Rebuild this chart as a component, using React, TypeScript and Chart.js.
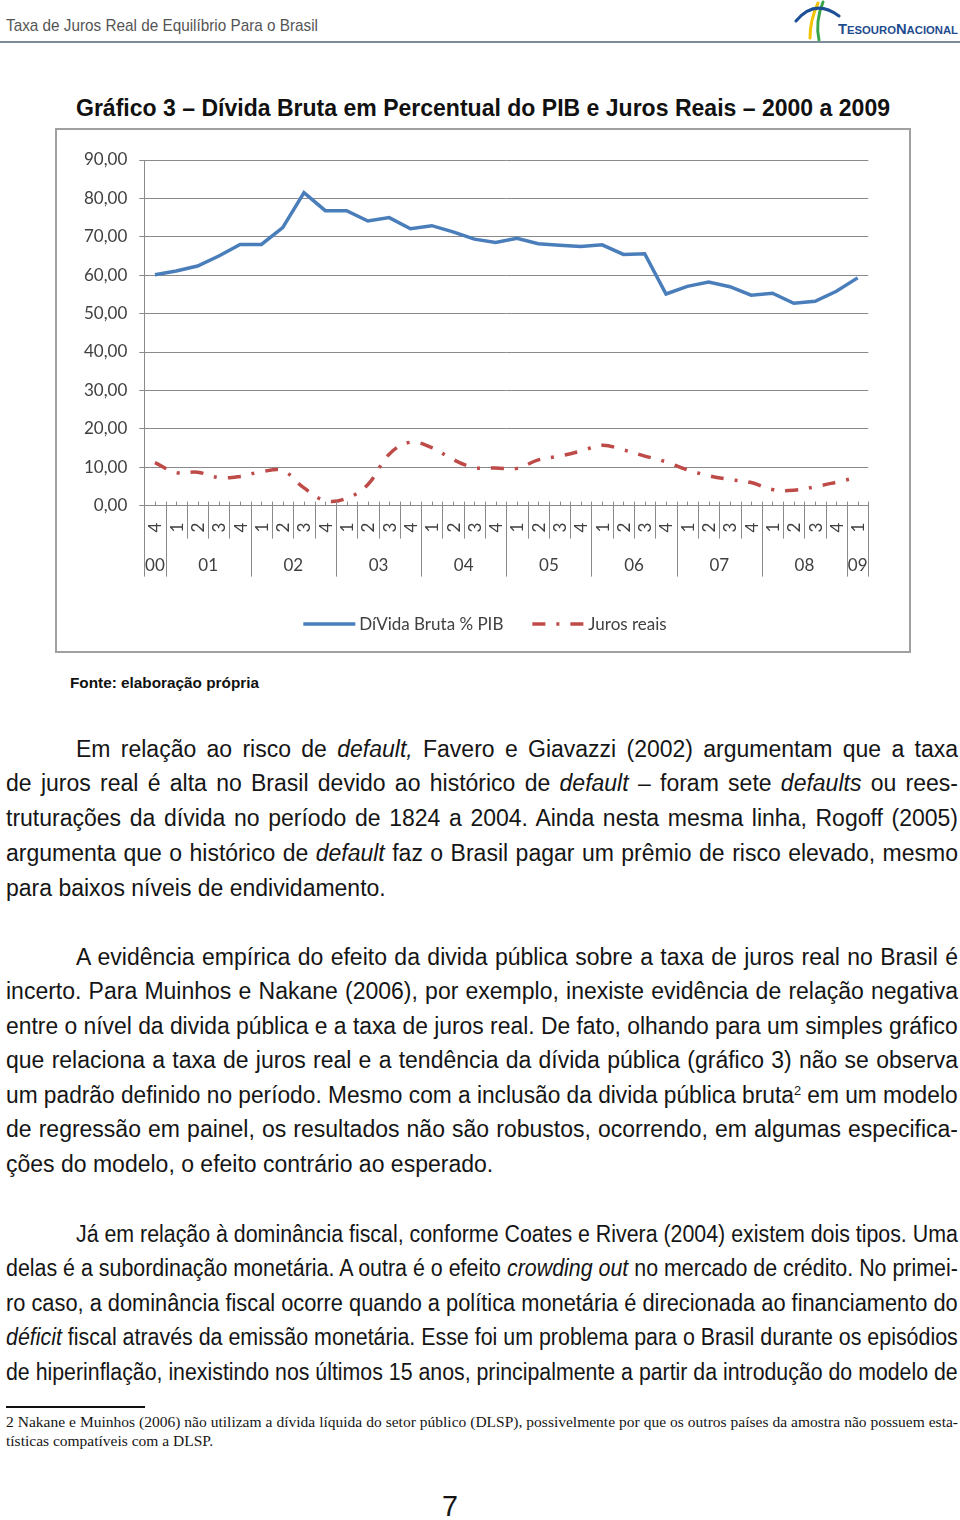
import React, { useEffect, useLayoutEffect, useRef } from "react";
import { Chart, registerables } from "chart.js";

Chart.register(...registerables);

// ---------- DATA ----------
const quarters = [
  "4",
  "1", "2", "3", "4",
  "1", "2", "3", "4",
  "1", "2", "3", "4",
  "1", "2", "3", "4",
  "1", "2", "3", "4",
  "1", "2", "3", "4",
  "1", "2", "3", "4",
  "1", "2", "3", "4",
  "1",
];
const yearLabels = ["00", "01", "02", "03", "04", "05", "06", "07", "08", "09"];
const yearSpans = [1, 4, 4, 4, 4, 4, 4, 4, 4, 1];

const dividaBruta = [
  60.1, 61.1, 62.4, 65.0, 68.0, 68.0, 72.4, 81.5, 76.8, 76.8, 74.1, 75.0,
  72.1, 72.9, 71.3, 69.4, 68.5, 69.6, 68.2, 67.8, 67.5, 67.9, 65.4, 65.6,
  55.1, 57.1, 58.2, 57.0, 54.8, 55.3, 52.7, 53.2, 55.8, 59.3,
];
const jurosReais = [
  11.2, 8.6, 8.7, 7.3, 7.6, 8.8, 9.1, 4.6, 1.3, 1.9, 5.5, 13.4,
  16.5, 15.1, 12.0, 9.9, 9.8, 9.7, 11.9, 12.9, 14.2, 15.7, 14.5, 12.9,
  11.4, 9.3, 7.8, 6.8, 6.0, 4.2, 4.0, 4.9, 6.1, 7.4,
];
const seriesNames = ["DíVida Bruta % PIB", "Juros reais"];
const yMin = 0;
const yMax = 90;
const yStep = 10;

// ---------- STYLE ----------
const BLUE = "#4A7EBB";
const RED = "#BE4B48";
const RED_DASH = [13, 11, 3, 11];
const AXIS = "#8a8a8a";
const LABEL = "#404040";
const CHART_FONT = "Lato";

const decorPlugin = {
  id: "decor",
  afterDraw(chart: any) {
    const ctx = chart.ctx as CanvasRenderingContext2D;
    const xs = chart.scales.x;
    const ys = chart.scales.y;
    const y0 = ys.getPixelForValue(0);
    const n = quarters.length;
    const half = (xs.getPixelForValue(1) - xs.getPixelForValue(0)) / 2;
    const edge = (b: number) =>
      b < n ? xs.getPixelForValue(b) - half : xs.getPixelForValue(n - 1) + half;

    ctx.save();
    ctx.strokeStyle = AXIS;
    ctx.lineWidth = 1;

    // small ticks above axis
    ctx.beginPath();
    for (let i = 0; i < n; i++) {
      const c = Math.round(xs.getPixelForValue(i)) + 0.5;
      ctx.moveTo(c, y0 - 4);
      ctx.lineTo(c, y0);
    }
    ctx.stroke();

    // separators
    const yearEdges = new Set<number>();
    let acc = 0;
    yearEdges.add(0);
    for (const s of yearSpans) {
      acc += s;
      yearEdges.add(acc);
    }
    ctx.beginPath();
    for (let b = 0; b <= n; b++) {
      const bx = Math.round(edge(b)) + 0.5;
      ctx.moveTo(bx, y0 - 4);
      ctx.lineTo(bx, y0 + (yearEdges.has(b) ? 71 : 33));
    }
    ctx.stroke();

    // quarter labels
    ctx.fillStyle = LABEL;
    ctx.font = `17px ${CHART_FONT}`;
    ctx.textAlign = "center";
    ctx.textBaseline = "middle";
    for (let i = 0; i < n; i++) {
      const c = xs.getPixelForValue(i);
      ctx.save();
      ctx.translate(c + 1, y0 + 22);
      ctx.rotate(-Math.PI / 2);
      ctx.fillText(quarters[i], 0, 0);
      ctx.restore();
    }

    // year labels
    let start = 0;
    yearLabels.forEach((lab, k) => {
      const end = start + yearSpans[k];
      const cx = (edge(start) + edge(end)) / 2;
      ctx.fillText(lab, cx, y0 + 60);
      start = end;
    });

    // legend
    const sample = 52;
    const gapText = 4;
    const gapItems = 29;
    const w0 = ctx.measureText(seriesNames[0]).width;
    const w1 = ctx.measureText(seriesNames[1]).width;
    const total = sample + gapText + w0 + gapItems + sample + gapText + w1;
    const ly = chart.height - 27;
    let lx = chart.width / 2 - total / 2 + 2;
    ctx.textAlign = "left";
    ctx.lineWidth = 3.5;
    ctx.strokeStyle = BLUE;
    ctx.beginPath();
    ctx.moveTo(lx, ly);
    ctx.lineTo(lx + sample, ly);
    ctx.stroke();
    ctx.fillText(seriesNames[0], lx + sample + gapText, ly + 1);
    lx += sample + gapText + w0 + gapItems;
    ctx.strokeStyle = RED;
    ctx.setLineDash(RED_DASH);
    ctx.beginPath();
    ctx.moveTo(lx, ly);
    ctx.lineTo(lx + sample, ly);
    ctx.stroke();
    ctx.setLineDash([]);
    ctx.fillText(seriesNames[1], lx + sample + gapText, ly + 1);

    ctx.restore();
  },
};

function ChartBox() {
  const ref = useRef<HTMLCanvasElement>(null);
  useEffect(() => {
    if (!ref.current) return;
    const chart = new Chart(ref.current, {
      type: "line",
      data: {
        labels: quarters,
        datasets: [
          {
            label: seriesNames[0],
            data: dividaBruta,
            borderColor: BLUE,
            borderWidth: 3.5,
            pointRadius: 0,
            tension: 0,
            fill: false,
          },
          {
            label: seriesNames[1],
            data: jurosReais,
            borderColor: RED,
            borderWidth: 3.5,
            borderDash: RED_DASH,
            pointRadius: 0,
            tension: 0.4,
            fill: false,
          },
        ],
      },
      options: {
        animation: false,
        responsive: false,
        devicePixelRatio: 1,
        layout: { padding: { top: 30, right: 40.7, bottom: 0, left: 0 } },
        plugins: { legend: { display: false }, tooltip: { enabled: false } },
        scales: {
          x: {
            type: "category",
            offset: true,
            grid: { display: false },
            border: { display: false },
            ticks: { display: false },
            afterFit: (s: any) => {
              s.height = 145.4;
            },
          },
          y: {
            min: yMin,
            max: yMax,
            ticks: {
              stepSize: yStep,
              callback: (v: any) => Number(v).toFixed(2).replace(".", ","),
              font: { family: CHART_FONT, size: 17 },
              color: LABEL,
              padding: 12,
            },
            grid: { color: AXIS, lineWidth: 1, tickLength: 5 },
            border: { color: AXIS, width: 1 },
            afterFit: (s: any) => {
              s.width = 87.3;
            },
          },
        },
      } as any,
      plugins: [decorPlugin],
    });
    return () => chart.destroy();
  }, []);
  return (
    <div
      style={{
        position: "absolute",
        left: 55,
        top: 128,
        width: 856,
        height: 525,
        boxSizing: "border-box",
        border: "2px solid #a0a0a0",
        background: "#fff",
      }}
    >
      <canvas ref={ref} width={852} height={521} style={{ display: "block", width: 852, height: 521 }} />
    </div>
  );
}

// ---------- TEXT ----------
type LineProps = {
  left: number;
  cy: number;
  width: number;
  lh: number;
  justify?: boolean;
  fit?: boolean;
  style?: React.CSSProperties;
  children: React.ReactNode;
};

function TextLine({ left, cy, width, lh, justify, fit, style, children }: LineProps) {
  const ref = useRef<HTMLDivElement>(null);
  const inner = useRef<HTMLSpanElement>(null);
  useLayoutEffect(() => {
    const el = ref.current;
    if (!el) return;
    el.style.transform = "";
    if (fit && inner.current) {
      const w = inner.current.getBoundingClientRect().width;
      if (w > 0) el.style.transform = `scaleX(${width / w})`;
      return;
    }
    const sw = el.scrollWidth;
    const cw = el.clientWidth;
    if (sw > cw + 0.5) el.style.transform = `scaleX(${cw / sw})`;
  });
  return (
    <div
      ref={ref}
      style={{
        position: "absolute",
        left,
        top: cy - lh / 2,
        width,
        height: lh,
        lineHeight: `${lh}px`,
        whiteSpace: "nowrap",
        textAlign: justify ? "justify" : "left",
        textAlignLast: justify ? "justify" : "left",
        transformOrigin: "left center",
        ...style,
      }}
    >
      {fit ? <span ref={inner} style={{ display: "inline-block" }}>{children}</span> : children}
    </div>
  );
}

function rich(s: string) {
  const parts = s.split(/(_[^_]*_|\^[^^]*\^)/);
  return parts.map((p, i) => {
    if (p.startsWith("_") && p.endsWith("_") && p.length > 1)
      return <i key={i}>{p.slice(1, -1)}</i>;
    if (p.startsWith("^") && p.endsWith("^") && p.length > 1)
      return (
        <span key={i} style={{ fontSize: 13, position: "relative", top: -8 }}>
          {p.slice(1, -1)}
        </span>
      );
    return <React.Fragment key={i}>{p}</React.Fragment>;
  });
}

const para1 = [
  "Em relação ao risco de _default,_ Favero e Giavazzi (2002) argumentam que a taxa",
  "de juros real é alta no Brasil devido ao histórico de _default_ – foram sete _defaults_ ou rees-",
  "truturações da dívida no período de 1824 a 2004. Ainda nesta mesma linha, Rogoff (2005)",
  "argumenta que o histórico de _default_ faz o Brasil pagar um prêmio de risco elevado, mesmo",
  "para baixos níveis de endividamento.",
];
const para2 = [
  "A evidência empírica do efeito da divida pública sobre a taxa de juros real no Brasil é",
  "incerto. Para Muinhos e Nakane (2006), por exemplo, inexiste evidência de relação negativa",
  "entre o nível da divida pública e a taxa de juros real. De fato, olhando para um simples gráfico",
  "que relaciona a taxa de juros real e a tendência da dívida pública (gráfico 3) não se observa",
  "um padrão definido no período. Mesmo com a inclusão da divida pública bruta^2^ em um modelo",
  "de regressão em painel, os resultados não são robustos, ocorrendo, em algumas especifica-",
  "ções do modelo, o efeito contrário ao esperado.",
];
const para3 = [
  "Já em relação à dominância fiscal, conforme Coates e Rivera (2004) existem dois tipos. Uma",
  "delas é a subordinação monetária. A outra é o efeito _crowding out_ no mercado de crédito. No primei-",
  "ro caso, a dominância fiscal ocorre quando a política monetária é direcionada ao financiamento do",
  "_déficit_ fiscal através da emissão monetária. Esse foi um problema para o Brasil durante os episódios",
  "de hiperinflação, inexistindo nos últimos 15 anos, principalmente a partir da introdução do modelo de",
];
const footnote = [
  "2  Nakane e Muinhos (2006) não utilizam a dívida líquida do setor público (DLSP), possivelmente por que os outros países da amostra não possuem esta-",
  "tísticas compatíveis com a DLSP.",
];

function Paragraph({
  lines,
  y,
  step,
  lastOpen,
  style,
}: {
  lines: string[];
  y: number;
  step: number;
  lastOpen: boolean;
  style: React.CSSProperties;
}) {
  return (
    <>
      {lines.map((l, i) => {
        const first = i === 0;
        const isLast = i === lines.length - 1;
        return (
          <TextLine
            key={i}
            left={first ? 76 : 6}
            cy={y + i * step}
            width={first ? 882 : 952}
            lh={step}
            justify={!(isLast && lastOpen)}
            style={style}
          >
            {rich(l)}
          </TextLine>
        );
      })}
    </>
  );
}

function Logo() {
  return (
    <>
      <svg
        width={50}
        height={42}
        viewBox="0 0 50 42"
        style={{ position: "absolute", left: 793, top: 0 }}
      >
        <path d="M17 38 Q17 20 25 3" stroke="#f2c300" strokeWidth={3} fill="none" strokeLinecap="round" />
        <path d="M26 40 Q22 22 30 2" stroke="#3aa64a" strokeWidth={3} fill="none" strokeLinecap="round" />
        <path d="M3 21 Q22 -2 46 16" stroke="#1c4f95" strokeWidth={3} fill="none" strokeLinecap="round" />
      </svg>
      <TextLine
        left={838}
        cy={29}
        width={120}
        lh={20}
        fit
        style={{ fontFamily: '"Liberation Sans", Arial, sans-serif', fontWeight: 700, color: "#1f4c8f" }}
      >
        <span style={{ fontSize: 15 }}>T</span>
        <span style={{ fontSize: 11.5 }}>ESOURO</span>
        <span style={{ fontSize: 15 }}>N</span>
        <span style={{ fontSize: 11.5 }}>ACIONAL</span>
      </TextLine>
    </>
  );
}

export default function App() {
  const sans = '"Liberation Sans", Arial, sans-serif';
  const body: React.CSSProperties = { fontFamily: sans, fontSize: 23, color: "#151515" };
  return (
    <div
      style={{
        position: "absolute",
        left: 0,
        top: 0,
        width: 960,
        height: 1520,
        background: "#fff",
        overflow: "hidden",
        color: "#151515",
      }}
    >
      <TextLine left={6} cy={26} width={312} lh={22} fit style={{ fontFamily: sans, fontSize: 17, color: "#555" }}>
        Taxa de Juros Real de Equilíbrio Para o Brasil
      </TextLine>
      <Logo />
      <div style={{ position: "absolute", left: 0, top: 41, width: 960, height: 2, background: "#7d8a99" }} />

      <TextLine left={76} cy={108} width={814} lh={30} fit style={{ fontFamily: sans, fontSize: 23, fontWeight: 700, color: "#111" }}>
        Gráfico 3 – Dívida Bruta em Percentual do PIB e Juros Reais – 2000 a 2009
      </TextLine>

      <ChartBox />

      <TextLine left={70} cy={683} width={189} lh={20} fit style={{ fontFamily: sans, fontSize: 15, fontWeight: 700, color: "#111" }}>
        Fonte: elaboração própria
      </TextLine>

      <Paragraph lines={para1} y={749} step={34.75} lastOpen style={body} />
      <Paragraph lines={para2} y={957} step={34.5} lastOpen style={body} />
      <Paragraph lines={para3} y={1234} step={34.5} lastOpen={false} style={body} />

      <div style={{ position: "absolute", left: 6, top: 1406, width: 139, height: 2, background: "#111" }} />
      <TextLine left={6} cy={1421} width={952} lh={19} justify style={{ fontFamily: '"Liberation Serif", serif', fontSize: 15.5 }}>
        {footnote[0]}
      </TextLine>
      <TextLine left={6} cy={1440} width={952} lh={19} style={{ fontFamily: '"Liberation Serif", serif', fontSize: 15.5 }}>
        {footnote[1]}
      </TextLine>

      <TextLine left={442} cy={1506} width={16} lh={32} fit style={{ fontFamily: sans, fontSize: 29 }}>
        7
      </TextLine>
    </div>
  );
}
